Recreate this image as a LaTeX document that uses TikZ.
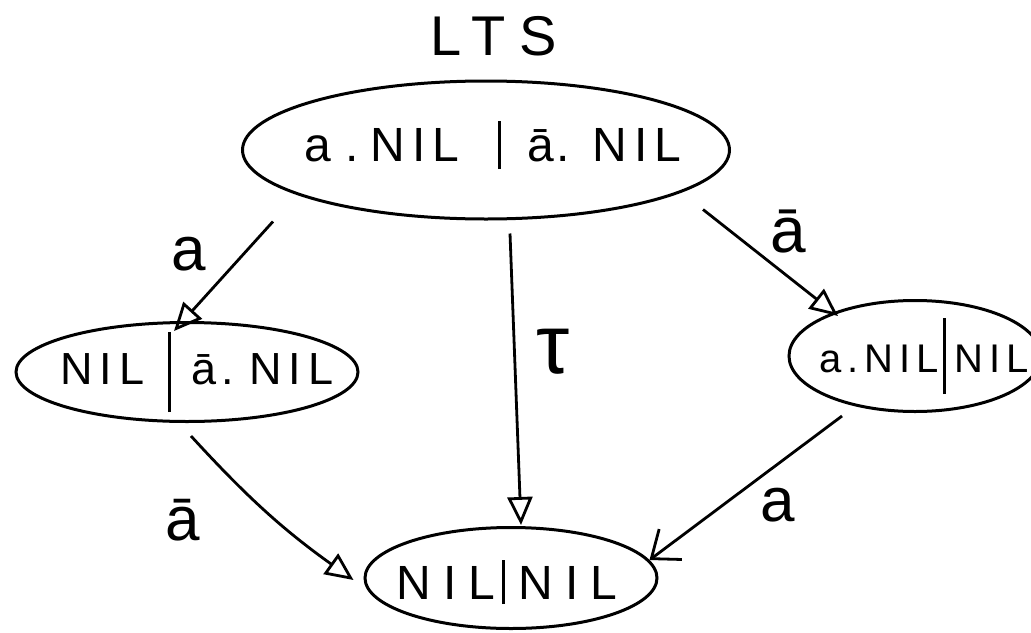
\documentclass[tikz,border=0pt]{standalone}
\usepackage{fontspec}
\setmainfont{Liberation Sans}
\usetikzlibrary{shapes.geometric,arrows.meta}
% tall hand-drawn separator between the two parallel components
\newcommand\sepbar[2]{\rule[#1]{3pt}{#2}}
\begin{document}
\begin{tikzpicture}[x=1pt,y=-1pt,
  state/.style={draw, ellipse, line width=3pt, inner sep=0pt},
  arr/.style={line width=2.8pt, -{Triangle[open,length=28pt,width=25pt,line width=2.8pt]}},
  barb/.style={line width=2.8pt, -{Straight Barb[length=24pt,width=38pt,line width=2.8pt]}},
  lbl/.style={font=\fontsize{62}{62}\selectfont},
  proc/.style={font=\fontsize{#1}{#1}\selectfont\addfontfeature{LetterSpace=15}, inner sep=0pt}]
\useasboundingbox (0,0) rectangle (1031,632);
\clip (0,0) rectangle (1031,632);

% title
\node[font=\fontsize{56}{56}\selectfont\addfontfeature{LetterSpace=25}] (title) at (494,36) {LTS};

% states: the process term sits in the ellipse as a centred label
\node[state, minimum width=487pt, minimum height=138pt,
      label={[proc=48, xshift=7pt, yshift=5pt]center:{a\hspace{14pt}.\hspace{12pt}NIL\hspace{38pt}\sepbar{-8pt}{48pt}\hspace{27pt}ā\hspace{2pt}.\hspace{23pt}NIL}}]
  (top) at (486,150) {};
\node[state, minimum width=342pt, minimum height=99pt,
      label={[proc=45, xshift=10pt]center:{NIL\hspace{24pt}\sepbar{-28pt}{80pt}\hspace{20pt}ā\hspace{5pt}.\hspace{16pt}NIL}}]
  (left) at (187,372) {};
\node[state, minimum width=252pt, minimum height=111pt,
      label={[proc=40, xshift=9pt]center:{a.NIL\hspace{4pt}\sepbar{-22pt}{76pt}\hspace{9pt}NIL}}]
  (right) at (915,356) {};
\node[state, minimum width=292pt, minimum height=101pt,
      label={[font=\fontsize{48}{48}\selectfont\addfontfeature{LetterSpace=25}, inner sep=0pt, xshift=-4pt, yshift=-4pt]center:{NIL\hspace{6pt}\sepbar{-5pt}{44pt}\hspace{14pt}NIL}}]
  (bot) at (511,578) {};

% transitions
\draw[arr] ([shift={(-213,1)}]top.south) -- ([shift={(-13,10)}]left.north);
\draw[arr] ([shift={(24,13)}]top.south) -- ([shift={(10,-1)}]bot.north);
\draw[arr] ([shift={(217,-11)}]top.south) -- ([shift={(-77,17)}]right.north);
\draw[arr] ([shift={(4,13)}]left.south) to[bend right=6] ([shift={(-10,2)}]bot.west);
\draw[barb] ([shift={(-73,3)}]right.south) -- ([shift={(-9,-18)}]bot.east);

% transition labels
\node[lbl] (la) at (189,254) {a};
\node[font=\fontsize{84}{84}\selectfont] (ltau) at (553,352) {τ};
\node[font=\fontsize{64}{64}\selectfont] (lrb) at (788,232) {ā};
\node[lbl] (llb) at (183,520) {ā};
\node[lbl] (lra) at (778,505) {a};
\end{tikzpicture}
\end{document}
